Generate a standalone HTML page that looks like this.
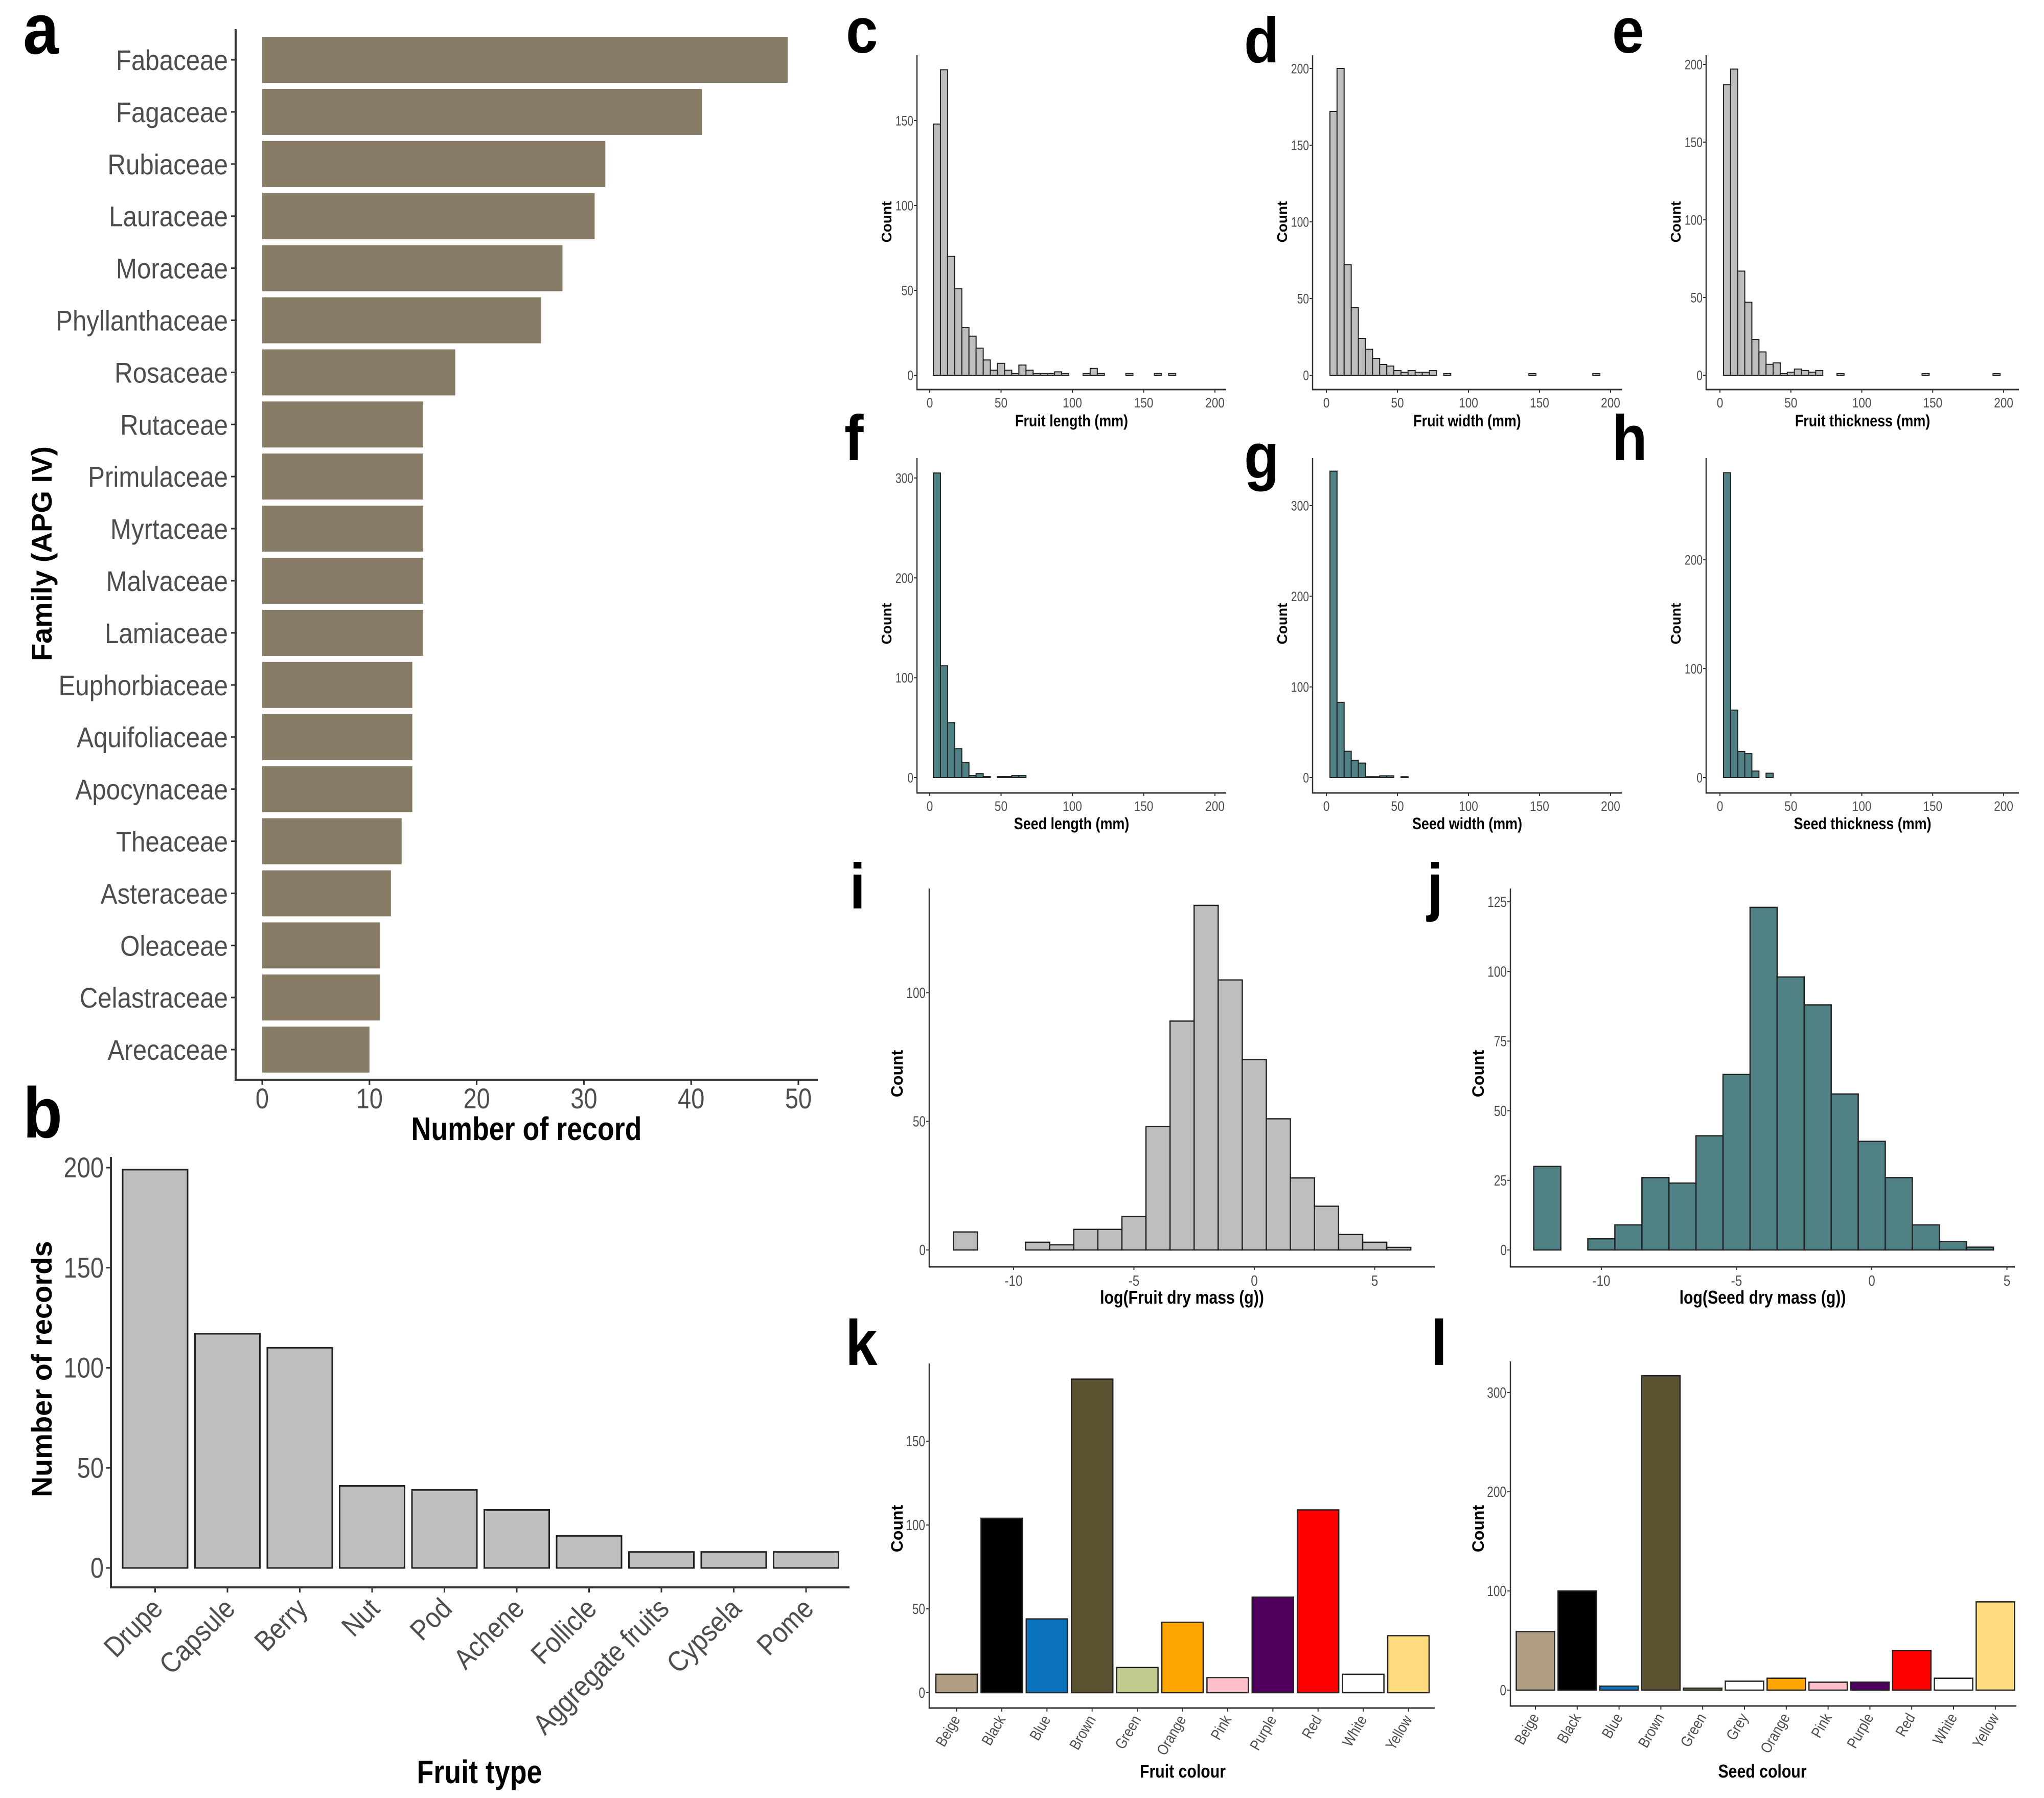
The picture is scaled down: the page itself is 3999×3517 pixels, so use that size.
<!DOCTYPE html>
<html><head><meta charset="utf-8"><style>
html,body{margin:0;padding:0;background:#fff;}
svg{display:block;}
text{font-family:"Liberation Sans Narrow","Liberation Sans",sans-serif;}
</style></head><body>
<svg id="fig" width="3999" height="3517" viewBox="0 0 3999 3517" xmlns="http://www.w3.org/2000/svg"></svg>
<script>
// ---------- DATA ----------
const famNames = ["Fabaceae","Fagaceae","Rubiaceae","Lauraceae","Moraceae","Phyllanthaceae","Rosaceae","Rutaceae","Primulaceae","Myrtaceae","Malvaceae","Lamiaceae","Euphorbiaceae","Aquifoliaceae","Apocynaceae","Theaceae","Asteraceae","Oleaceae","Celastraceae","Arecaceae"];
const famCounts = [49,41,32,31,28,26,18,15,15,15,15,15,14,14,14,13,12,11,11,10];
const famTicks = [0,10,20,30,40,50];

const fruitTypes = ["Drupe","Capsule","Berry","Nut","Pod","Achene","Follicle","Aggregate fruits","Cypsela","Pome"];
const fruitTypeCounts = [199,117,110,41,39,29,16,8,8,8];
const fruitTypeTicks = [0,50,100,150,200];

const mmTicks = [0,50,100,150,200];
const fruitLenBins = [5,10,15,20,25,30,35,40,45,50,55,60,65,70,75,80,85,90,95,110,115,120,140,160,170];
const fruitLenCounts = [148,180,70,51,28,23,16,9,3,7,3,1,6,3,1,1,1,2,1,1,4,1,1,1,1];
const fruitLenTicks = [0,50,100,150];
const fruitWidBins = [5,10,15,20,25,30,35,40,45,50,55,60,65,70,75,85,145,190];
const fruitWidCounts = [172,200,72,44,24,17,11,7,6,3,2,3,2,2,3,1,1,1];
const fruitWidTicks = [0,50,100,150,200];
const fruitThkBins = [5,10,15,20,25,30,35,40,45,50,55,60,65,70,85,145,195];
const fruitThkCounts = [187,197,67,47,23,15,7,8,1,2,4,3,2,3,1,1,1];
const fruitThkTicks = [0,50,100,150,200];
const seedLenBins = [5,10,15,20,25,30,35,40,50,55,60,65];
const seedLenCounts = [305,112,55,29,15,2,4,1,1,1,2,2];
const seedLenTicks = [0,100,200,300];
const seedWidBins = [5,10,15,20,25,30,35,40,45,55];
const seedWidCounts = [338,83,29,19,16,1,1,2,2,1];
const seedWidTicks = [0,100,200,300];
const seedThkBins = [5,10,15,20,25,35];
const seedThkCounts = [280,62,24,22,6,4];
const seedThkTicks = [0,100,200];

const fruitMassBins = [-12,-9,-8,-7,-6,-5,-4,-3,-2,-1,0,1,2,3,4,5,6];
const fruitMassCounts = [7,3,2,8,8,13,48,89,134,105,74,51,28,17,6,3,1];
const fruitMassYTicks = [0,50,100];
const seedMassBins = [-12,-10,-9,-8,-7,-6,-5,-4,-3,-2,-1,0,1,2,3,4];
const seedMassCounts = [30,4,9,26,24,41,63,123,98,88,56,39,26,9,3,1];
const seedMassYTicks = [0,25,50,75,100,125];
const logTicks = [-10,-5,0,5];

const fruitColNames = ["Beige","Black","Blue","Brown","Green","Orange","Pink","Purple","Red","White","Yellow"];
const fruitColCounts = [11,104,44,187,15,42,9,57,109,11,34];
const fruitColFills = ["#b09e84","#000000","#0b72bc","#5b5232","#c2ca8d","#ffa500","#ffc0cb","#4f005f","#ff0000","#ffffff","#ffdb80"];
const fruitColTicks = [0,50,100,150];
const seedColNames = ["Beige","Black","Blue","Brown","Green","Grey","Orange","Pink","Purple","Red","White","Yellow"];
const seedColCounts = [59,100,4,317,2,9,12,8,8,40,12,89];
const seedColFills = ["#b09e84","#000000","#0b72bc","#5b5232","#6b7a3a","#ffffff","#ffa500","#ffc0cb","#4f005f","#ff0000","#ffffff","#ffdb80"];
const seedColTicks = [0,100,200,300];

// ---------- HELPERS ----------
const NS = "http://www.w3.org/2000/svg";
const svg = document.getElementById("fig");
const NARROW = 0.84;
function mk(tag, attrs, parent, txt){
  const el = document.createElementNS(NS, tag);
  for (const k in attrs) el.setAttribute(k, attrs[k]);
  if (txt !== undefined) el.textContent = txt;
  (parent || svg).appendChild(el);
  return el;
}
function group(name){
  const g = mk("g", {});
  
  
  return g;
}
function line(g, x1,y1,x2,y2, w, name){
  const el = mk("line", {x1:x1,y1:y1,x2:x2,y2:y2,stroke:"#333",'stroke-width':w}, g);
  
  
  return el;
}
function text(g, x,y, s, size, opts, name){
  opts = opts || {};
  const sx = opts.wide ? 1 : (opts.sx || NARROW);
  let tr = `translate(${x},${y})`;
  if (opts.rot) tr += ` rotate(${opts.rot})`;
  tr += ` scale(${sx},1)`;
  const a = {x:0,y:0,'font-size':size,fill:opts.fill||"#4d4d4d",'text-anchor':opts.anchor||"middle",transform:tr};
  if (opts.weight) a['font-weight'] = opts.weight;
  if (opts.family) a['font-family'] = opts.family;
  const el = mk("text", a, g, s);
  
  
  return el;
}
function letter(x,y,s,size){
  const el = mk("text",{x:0,y:0,'font-size':size,'font-weight':'bold',fill:"#000",transform:`translate(${x},${y}) scale(0.9,1)`},svg,s);
  
  
}

// ---------- PANEL A ----------
(function(){
  const g = group("panel-a-family-bar-chart");
  const x0 = 513, ppu = 20.98, top0 = 72, pitch = 101.9, bh = 90;
  const xA = v => x0 + v*ppu;
  famNames.forEach((n,i)=>{
    const y = top0 + i*pitch;
    const r = mk("rect",{x:xA(0),y:y,width:xA(famCounts[i])-xA(0),height:bh,fill:"#887b65"},g);
    
    
    line(g, 452, y+bh/2, 461, y+bh/2, 3, 'y-tick');
    text(g, 446, y+bh/2+20, n, 56, {anchor:"end",sx:0.88}, 'y-tick-label');
  });
  line(g, 461, 57, 461, 2113, 4, 'y-axis-line');
  line(g, 459, 2112, 1600, 2112, 4, 'x-axis-line');
  famTicks.forEach(t=>{
    line(g, xA(t), 2112, xA(t), 2122, 3, 'x-tick');
    text(g, xA(t), 2168, String(t), 56, {}, 'x-tick-label');
  });
  text(g, 1030, 2230, "Number of record", 64, {fill:"#000",weight:"bold"}, 'x-axis-title');
  text(g, 101, 1083, "Family (APG IV)", 56, {fill:"#000",weight:"bold",wide:true,rot:-90,family:"Liberation Sans, sans-serif"}, 'y-axis-title');
})();
letter(45,105,"a",140);

// ---------- PANEL B ----------
(function(){
  const g = group("panel-b-fruit-type-bar-chart");
  const yB = v => 3067 - v*3.915;
  const cx = i => 303.5 + i*141.5;
  fruitTypes.forEach((n,i)=>{
    const r = mk("rect",{x:cx(i)-63.5,y:yB(fruitTypeCounts[i]),width:127,height:yB(0)-yB(fruitTypeCounts[i]),fill:"#bebebe",stroke:"#222",'stroke-width':3},g);
    
    
    line(g, cx(i), 3105, cx(i), 3115, 3, 'x-tick');
    text(g, cx(i)+18, 3150, n, 56, {anchor:"end",rot:-45,sx:0.88}, 'x-tick-label');
  });
  line(g, 217, 2263, 217, 3106, 4, 'y-axis-line');
  line(g, 215, 3105, 1662, 3105, 4, 'x-axis-line');
  fruitTypeTicks.forEach(t=>{
    line(g, 208, yB(t), 217, yB(t), 3, 'y-tick');
    text(g, 203, yB(t)+19, String(t), 56, {anchor:"end"}, 'y-tick-label');
  });
  text(g, 938, 3488, "Fruit type", 64, {fill:"#000",weight:"bold"}, 'x-axis-title');
  text(g, 101, 2678, "Number of records", 56, {fill:"#000",weight:"bold",wide:true,rot:-90,family:"Liberation Sans, sans-serif"}, 'y-axis-title');
})();
letter(45,2225,"b",140);

// ---------- HISTOGRAMS ----------
function hist(cfg){
  const g = group(cfg.name);
  const X = v => cfg.x0 + v*cfg.ppx;
  const Y = c => cfg.y0 - c*cfg.ppy;
  cfg.bins.forEach((b,i)=>{
    const c = cfg.counts[i];
    const r = mk("rect",{x:X(b-cfg.bw/2),y:Y(c),width:X(b+cfg.bw/2)-X(b-cfg.bw/2),height:Math.max(Y(0)-Y(c),1),fill:cfg.fill,stroke:"#222",'stroke-width':cfg.sw||2},g);
    
    
  });
  line(g, cfg.ax, cfg.top, cfg.ax, cfg.axY+1, 2.5, 'y-axis-line');
  line(g, cfg.ax-1, cfg.axY, cfg.right, cfg.axY, 3, 'x-axis-line');
  cfg.xt.forEach(t=>{
    line(g, X(t), cfg.axY, X(t), cfg.axY+6, 2, 'x-tick');
    text(g, X(t), cfg.axY+cfg.fs+8, String(t), cfg.fs, {}, 'x-tick-label');
  });
  cfg.yt.forEach(t=>{
    line(g, cfg.ax-6, Y(t), cfg.ax, Y(t), 2, 'y-tick');
    text(g, cfg.ax-7, Y(t)+cfg.fs*0.35, String(t), cfg.fs, {anchor:"end",sx:0.78}, 'y-tick-label');
  });
  text(g, (cfg.ax+cfg.right)/2, cfg.titleY, cfg.title, cfg.tfs, {fill:"#000",weight:"bold"}, 'x-axis-title');
  text(g, cfg.ax-cfg.cdx, cfg.countY, "Count", cfg.cfs, {fill:"#000",weight:"bold",wide:true,rot:-90,family:"Liberation Sans, sans-serif"}, 'y-axis-title');
}
const GREY="#bebebe", TEAL="#4f8185";
hist({name:"panel-c-fruit-length-histogram",x0:1819,ppx:2.79,y0:734,ppy:498/150,bins:fruitLenBins,counts:fruitLenCounts,bw:5,fill:GREY,ax:1794,top:108,axY:762,right:2399,xt:mmTicks,yt:fruitLenTicks,fs:27,title:"Fruit length (mm)",titleY:834,tfs:32,cfs:28,cdx:50,countY:434});
hist({name:"panel-d-fruit-width-histogram",x0:2595,ppx:2.78,y0:734,ppy:600/200,bins:fruitWidBins,counts:fruitWidCounts,bw:5,fill:GREY,ax:2568,top:108,axY:762,right:3173,xt:mmTicks,yt:fruitWidTicks,fs:27,title:"Fruit width (mm)",titleY:834,tfs:32,cfs:28,cdx:50,countY:434});
hist({name:"panel-e-fruit-thickness-histogram",x0:3365,ppx:2.775,y0:734,ppy:608/200,bins:fruitThkBins,counts:fruitThkCounts,bw:5,fill:GREY,ax:3338,top:108,axY:762,right:3950,xt:mmTicks,yt:fruitThkTicks,fs:27,title:"Fruit thickness (mm)",titleY:834,tfs:32,cfs:28,cdx:50,countY:434});
hist({name:"panel-f-seed-length-histogram",x0:1819,ppx:2.79,y0:1521,ppy:586/300,bins:seedLenBins,counts:seedLenCounts,bw:5,fill:TEAL,ax:1794,top:896,axY:1551,right:2399,xt:mmTicks,yt:seedLenTicks,fs:27,title:"Seed length (mm)",titleY:1622,tfs:32,cfs:28,cdx:50,countY:1220});
hist({name:"panel-g-seed-width-histogram",x0:2595,ppx:2.78,y0:1521,ppy:532/300,bins:seedWidBins,counts:seedWidCounts,bw:5,fill:TEAL,ax:2568,top:896,axY:1551,right:3173,xt:mmTicks,yt:seedWidTicks,fs:27,title:"Seed width (mm)",titleY:1622,tfs:32,cfs:28,cdx:50,countY:1220});
hist({name:"panel-h-seed-thickness-histogram",x0:3365,ppx:2.775,y0:1521,ppy:426/200,bins:seedThkBins,counts:seedThkCounts,bw:5,fill:TEAL,ax:3338,top:896,axY:1551,right:3950,xt:mmTicks,yt:seedThkTicks,fs:27,title:"Seed thickness (mm)",titleY:1622,tfs:32,cfs:28,cdx:50,countY:1220});
hist({name:"panel-i-fruit-mass-histogram",x0:2454,ppx:47.1,y0:2445,ppy:503/100,bins:fruitMassBins,counts:fruitMassCounts,bw:1,fill:GREY,sw:2.5,ax:1818,top:1738,axY:2478,right:2807,xt:logTicks,yt:fruitMassYTicks,fs:29,title:"log(Fruit dry mass (g))",titleY:2550,tfs:36,cfs:32,cdx:52,countY:2100});
hist({name:"panel-j-seed-mass-histogram",x0:3662,ppx:52.9,y0:2445,ppy:681/125,bins:seedMassBins,counts:seedMassCounts,bw:1,fill:TEAL,sw:2.5,ax:2955,top:1738,axY:2478,right:3942,xt:logTicks,yt:seedMassYTicks,fs:29,title:"log(Seed dry mass (g))",titleY:2550,tfs:36,cfs:32,cdx:52,countY:2100});

// ---------- COLOUR BAR CHARTS ----------
function colBars(cfg){
  const g = group(cfg.name);
  const Y = c => cfg.y0 - c*cfg.ppy;
  const cx = i => cfg.first + i*cfg.pitch;
  cfg.names.forEach((n,i)=>{
    const r = mk("rect",{x:cx(i)-cfg.bw/2,y:Y(cfg.counts[i]),width:cfg.bw,height:Y(0)-Y(cfg.counts[i]),fill:cfg.fills[i],stroke:"#222",'stroke-width':2.5},g);
    
    
    line(g, cx(i), cfg.axY, cx(i), cfg.axY+7, 2, 'x-tick');
    text(g, cx(i)+8, cfg.axY+22, n, 30, {anchor:"end",rot:-60}, 'x-tick-label');
  });
  line(g, cfg.ax, cfg.top, cfg.ax, cfg.axY+1, 2.5, 'y-axis-line');
  line(g, cfg.ax-1, cfg.axY, cfg.right, cfg.axY, 3, 'x-axis-line');
  cfg.yt.forEach(t=>{
    line(g, cfg.ax-6, Y(t), cfg.ax, Y(t), 2, 'y-tick');
    text(g, cfg.ax-8, Y(t)+10, String(t), 29, {anchor:"end",sx:0.78}, 'y-tick-label');
  });
  text(g, cfg.titleX, 3477, cfg.title, 36, {fill:"#000",weight:"bold"}, 'x-axis-title');
  text(g, cfg.ax-52, cfg.countY, "Count", 32, {fill:"#000",weight:"bold",wide:true,rot:-90,family:"Liberation Sans, sans-serif"}, 'y-axis-title');
}
colBars({name:"panel-k-fruit-colour-bar-chart",names:fruitColNames,counts:fruitColCounts,fills:fruitColFills,first:1871.5,pitch:88.4,bw:81,y0:3311,ppy:3.28,ax:1818,top:2667,axY:3341,right:2807,yt:fruitColTicks,title:"Fruit colour",titleX:2314,countY:2990});
colBars({name:"panel-l-seed-colour-bar-chart",names:seedColNames,counts:seedColCounts,fills:seedColFills,first:3004,pitch:81.8,bw:75,y0:3306,ppy:1.94,ax:2955,top:2663,axY:3337,right:3945,yt:seedColTicks,title:"Seed colour",titleX:3448,countY:2990});

// ---------- PANEL LETTERS ----------
letter(1655,103,"c",125);
letter(2434,122,"d",125);
letter(3154,103,"e",125);
letter(1652,900,"f",125);
letter(2434,935,"g",125);
letter(3154,900,"h",125);
letter(1662,1777,"i",125);
letter(2792,1777,"j",125);
letter(1654,2670,"k",125);
letter(2800,2670,"l",125);
</script>
</body></html>
